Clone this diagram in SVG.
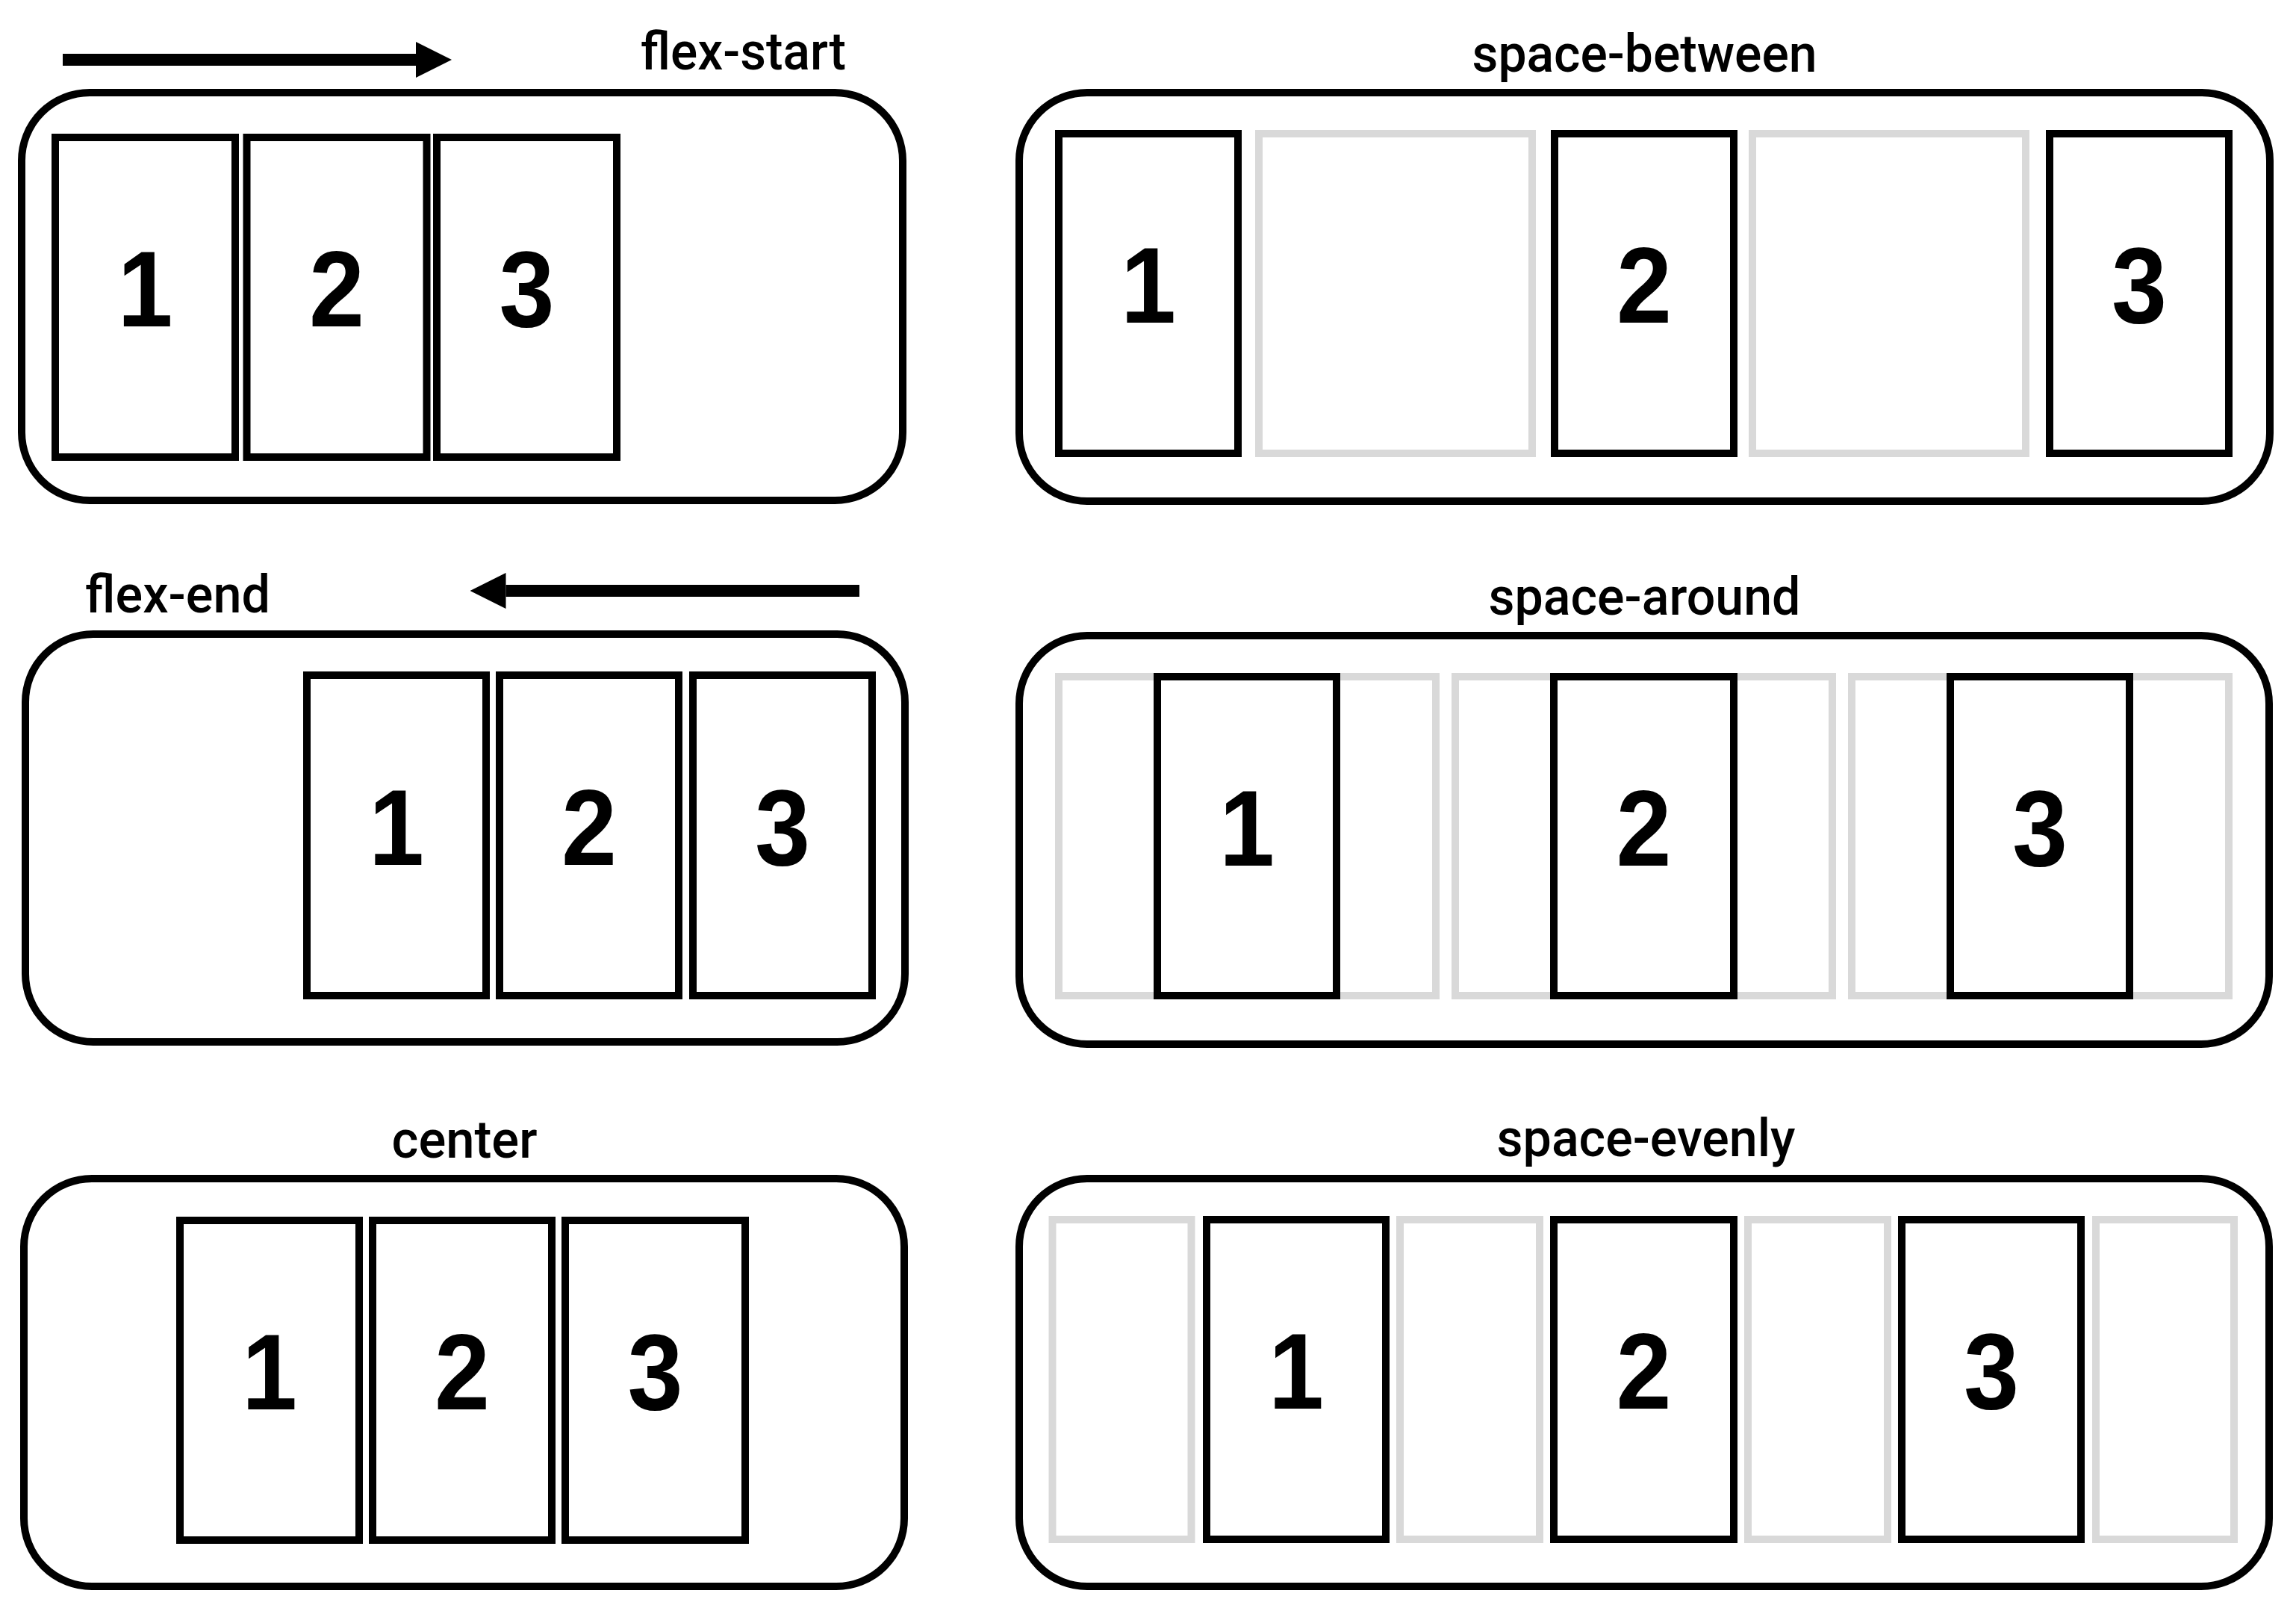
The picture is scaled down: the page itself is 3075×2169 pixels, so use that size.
<svg xmlns="http://www.w3.org/2000/svg" width="3075" height="2169" viewBox="0 0 3075 2169">
  <style>
    .container { fill: none; stroke: #000; stroke-width: 10; }
    .item { fill: #fff; stroke: #000; stroke-width: 10; }
    .ghost { fill: #fff; stroke: #d9d9d9; stroke-width: 10; }
    .num { font-family: "Liberation Sans", Arial, sans-serif; font-weight: bold; font-size: 144px; fill: #000; text-anchor: middle; }
    .label { font-family: Roboto, "Liberation Sans", Arial, sans-serif; font-weight: 500; font-size: 70px; fill: #000; }
    .arrow { fill: none; stroke: #000; stroke-width: 16; }
  </style>
  <defs>
    <marker id="head" markerUnits="userSpaceOnUse" viewBox="0 0 48 48" markerWidth="48" markerHeight="48" refX="0" refY="24" orient="auto">
      <path d="M0,0 L48,24 L0,48 Z" fill="#000"/>
    </marker>
  </defs>
  <rect x="0" y="0" width="3075" height="2169" fill="#fff"/>

  <g id="connectors">
    <path class="arrow" d="M84,80 L557,80" marker-end="url(#head)"/>
    <path class="arrow" d="M1151,791 L677.5,791" marker-end="url(#head)"/>
  </g>

  <g id="flex-start">
    <text class="label" x="858" y="93" textLength="275" lengthAdjust="spacingAndGlyphs">flex-start</text>
    <rect class="container" x="29" y="124" width="1180" height="546" rx="91" ry="91"/>
    <rect class="item" x="74" y="184" width="241" height="428"/>
    <rect class="item" x="330.5" y="184" width="241" height="428"/>
    <rect class="item" x="585" y="184" width="241" height="428"/>
    <text class="num" x="194.5" y="437" textLength="74" lengthAdjust="spacingAndGlyphs">1</text>
    <text class="num" x="451" y="437" textLength="74" lengthAdjust="spacingAndGlyphs">2</text>
    <text class="num" x="705.5" y="437" textLength="74" lengthAdjust="spacingAndGlyphs">3</text>
  </g>

  <g id="space-between">
    <text class="label" x="2202.5" y="96" text-anchor="middle" textLength="462" lengthAdjust="spacingAndGlyphs">space-between</text>
    <rect class="container" x="1365" y="124" width="1675" height="547" rx="91" ry="91"/>
    <rect class="ghost" x="1686" y="179" width="366" height="428"/>
    <rect class="ghost" x="2347" y="179" width="366" height="428"/>
    <rect class="item" x="1418" y="179" width="240" height="428"/>
    <rect class="item" x="2082" y="179" width="240" height="428"/>
    <rect class="item" x="2745" y="179" width="240" height="428"/>
    <text class="num" x="1538" y="432" textLength="74" lengthAdjust="spacingAndGlyphs">1</text>
    <text class="num" x="2202" y="432" textLength="74" lengthAdjust="spacingAndGlyphs">2</text>
    <text class="num" x="2865" y="432" textLength="74" lengthAdjust="spacingAndGlyphs">3</text>
  </g>

  <g id="flex-end">
    <text class="label" x="114" y="820" textLength="248" lengthAdjust="spacingAndGlyphs">flex-end</text>
    <rect class="container" x="34" y="849" width="1178" height="546" rx="91" ry="91"/>
    <rect class="item" x="411" y="904" width="240" height="429"/>
    <rect class="item" x="669" y="904" width="240" height="429"/>
    <rect class="item" x="928" y="904" width="240" height="429"/>
    <text class="num" x="531" y="1158" textLength="74" lengthAdjust="spacingAndGlyphs">1</text>
    <text class="num" x="789" y="1158" textLength="74" lengthAdjust="spacingAndGlyphs">2</text>
    <text class="num" x="1048" y="1158" textLength="74" lengthAdjust="spacingAndGlyphs">3</text>
  </g>

  <g id="space-around">
    <text class="label" x="2202.5" y="823" text-anchor="middle" textLength="418" lengthAdjust="spacingAndGlyphs">space-around</text>
    <rect class="container" x="1365" y="851" width="1674" height="547" rx="91" ry="91"/>
    <rect class="ghost" x="1418" y="906" width="505" height="427"/>
    <rect class="ghost" x="1949" y="906" width="505" height="427"/>
    <rect class="ghost" x="2480" y="906" width="505" height="427"/>
    <rect class="item" x="1550" y="906" width="240" height="427"/>
    <rect class="item" x="2081" y="906" width="241" height="427"/>
    <rect class="item" x="2612" y="906" width="240" height="427"/>
    <text class="num" x="1670" y="1159" textLength="74" lengthAdjust="spacingAndGlyphs">1</text>
    <text class="num" x="2201.5" y="1159" textLength="74" lengthAdjust="spacingAndGlyphs">2</text>
    <text class="num" x="2732" y="1159" textLength="74" lengthAdjust="spacingAndGlyphs">3</text>
  </g>

  <g id="center">
    <text class="label" x="622" y="1550" text-anchor="middle" textLength="195" lengthAdjust="spacingAndGlyphs">center</text>
    <rect class="container" x="32" y="1578" width="1179" height="546" rx="91" ry="91"/>
    <rect class="item" x="241" y="1634" width="240" height="428"/>
    <rect class="item" x="499" y="1634" width="240" height="428"/>
    <rect class="item" x="757" y="1634" width="241" height="428"/>
    <text class="num" x="361" y="1887" textLength="74" lengthAdjust="spacingAndGlyphs">1</text>
    <text class="num" x="619" y="1887" textLength="74" lengthAdjust="spacingAndGlyphs">2</text>
    <text class="num" x="877.5" y="1887" textLength="74" lengthAdjust="spacingAndGlyphs">3</text>
  </g>

  <g id="space-evenly">
    <text class="label" x="2204.5" y="1548" text-anchor="middle" textLength="400" lengthAdjust="spacingAndGlyphs">space-evenly</text>
    <rect class="container" x="1365" y="1578" width="1674" height="546" rx="91" ry="91"/>
    <rect class="ghost" x="1409.5" y="1633" width="186" height="428"/>
    <rect class="ghost" x="1875" y="1633" width="187" height="428"/>
    <rect class="ghost" x="2341" y="1633" width="187" height="428"/>
    <rect class="ghost" x="2807" y="1633" width="185" height="428"/>
    <rect class="item" x="1616" y="1633" width="240" height="428"/>
    <rect class="item" x="2081" y="1633" width="241" height="428"/>
    <rect class="item" x="2547" y="1633" width="240" height="428"/>
    <text class="num" x="1736" y="1886" textLength="74" lengthAdjust="spacingAndGlyphs">1</text>
    <text class="num" x="2201.5" y="1886" textLength="74" lengthAdjust="spacingAndGlyphs">2</text>
    <text class="num" x="2667" y="1886" textLength="74" lengthAdjust="spacingAndGlyphs">3</text>
  </g>
</svg>
